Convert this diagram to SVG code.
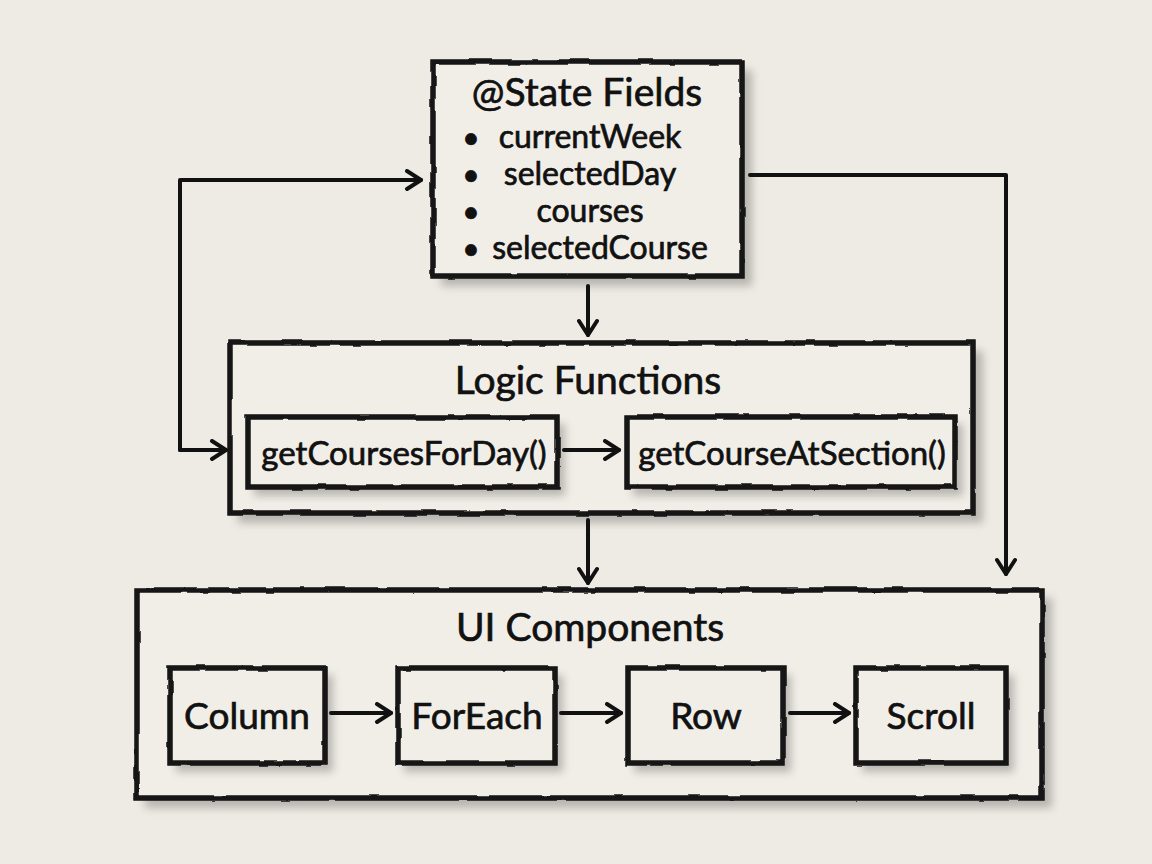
<svg xmlns="http://www.w3.org/2000/svg" width="1152" height="864" viewBox="0 0 1152 864">
<defs>
<filter id="sh" x="-10%" y="-10%" width="130%" height="140%">
<feGaussianBlur stdDeviation="4"/>
</filter>
<filter id="rough" x="-5%" y="-5%" width="110%" height="110%">
<feTurbulence type="fractalNoise" baseFrequency="0.04" numOctaves="2" seed="3" result="n"/>
<feDisplacementMap in="SourceGraphic" in2="n" scale="3" xChannelSelector="R" yChannelSelector="G"/>
</filter>
<marker id="arr" viewBox="0 0 22 22" refX="18" refY="11" markerWidth="22" markerHeight="22" markerUnits="userSpaceOnUse" orient="auto">
<path d="M4,2 L18,11 L4,20" fill="none" stroke="#111" stroke-width="4" stroke-linecap="round" stroke-linejoin="round"/>
</marker>
</defs>
<style>
.bg{fill:#eeebe5}
.box{fill:#f1eee8;stroke:#161616;stroke-width:5.5;filter:url(#rough)}
.shadow{fill:#8a8883;opacity:0.55;filter:url(#sh)}
.t{font-family:"Lato","Open Sans",sans-serif;fill:#111;stroke:#111;stroke-width:0.7;text-anchor:middle}
.title{font-size:39px}
.item{font-size:30px}
.lbl{font-size:33px}
.big{font-size:37px}
.conn{fill:none;stroke:#111;stroke-width:4;stroke-linecap:round;stroke-linejoin:round;marker-end:url(#arr)}
</style>
<rect class="bg" x="0" y="0" width="1152" height="864"/>

<g id="state">
<rect class="shadow" x="441" y="70" width="311" height="216"/>
<rect class="box" x="433" y="62" width="309" height="214"/>
<text class="t title" x="587" y="106">@State Fields</text>
<text class="t item" y="148"><tspan x="471">•</tspan><tspan x="590" font-size="32">currentWeek</tspan></text>
<text class="t item" y="185"><tspan x="471">•</tspan><tspan x="590" font-size="32">selectedDay</tspan></text>
<text class="t item" y="222"><tspan x="471">•</tspan><tspan x="590" font-size="32">courses</tspan></text>
<text class="t item" y="259"><tspan x="471">•</tspan><tspan x="600" font-size="32">selectedCourse</tspan></text>
</g>

<g id="logic">
<rect class="shadow" x="238" y="351" width="745" height="172"/>
<rect class="box" x="230" y="343" width="743" height="170"/>
<text class="t title" x="588" y="394">Logic Functions</text>
</g>
<g id="getCoursesForDay">
<rect class="shadow" x="254" y="424" width="311" height="72"/>
<rect class="box" x="248" y="417" width="309" height="70"/>
<text class="t lbl" x="404" y="465">getCoursesForDay()</text>
</g>
<g id="getCourseAtSection">
<rect class="shadow" x="633" y="424" width="330" height="72"/>
<rect class="box" x="627" y="417" width="328" height="70"/>
<text class="t lbl" x="792" y="465">getCourseAtSection()</text>
</g>

<g id="ui">
<rect class="shadow" x="145" y="598" width="907" height="210"/>
<rect class="box" x="137" y="590" width="905" height="208"/>
<text class="t title" x="590" y="641">UI Components</text>
</g>
<g id="column">
<rect class="shadow" x="176" y="675" width="157" height="97"/>
<rect class="box" x="170" y="668" width="155" height="95"/>
<text class="t big" x="247" y="729">Column</text>
</g>
<g id="foreach">
<rect class="shadow" x="404" y="675" width="159" height="97"/>
<rect class="box" x="398" y="668" width="157" height="95"/>
<text class="t big" x="477" y="729">ForEach</text>
</g>
<g id="row">
<rect class="shadow" x="634" y="675" width="157" height="97"/>
<rect class="box" x="628" y="668" width="155" height="95"/>
<text class="t big" x="706" y="729">Row</text>
</g>
<g id="scroll">
<rect class="shadow" x="862" y="675" width="152" height="97"/>
<rect class="box" x="856" y="668" width="150" height="95"/>
<text class="t big" x="931" y="729">Scroll</text>
</g>

<g id="connectors">
<path class="conn" d="M588,286 L588,335"/>
<path class="conn" d="M588,520 L588,583"/>
<path class="conn" d="M180,450 L180,180 L421,180"/>
<path class="conn" d="M180,450 L226,450"/>
<path class="conn" d="M750,175 L1006,175 L1006,574"/>
<path class="conn" d="M564,450 L619,450"/>
<path class="conn" d="M331,713 L391,713"/>
<path class="conn" d="M561,713 L621,713"/>
<path class="conn" d="M790,713 L849,713"/>
</g>
</svg>
